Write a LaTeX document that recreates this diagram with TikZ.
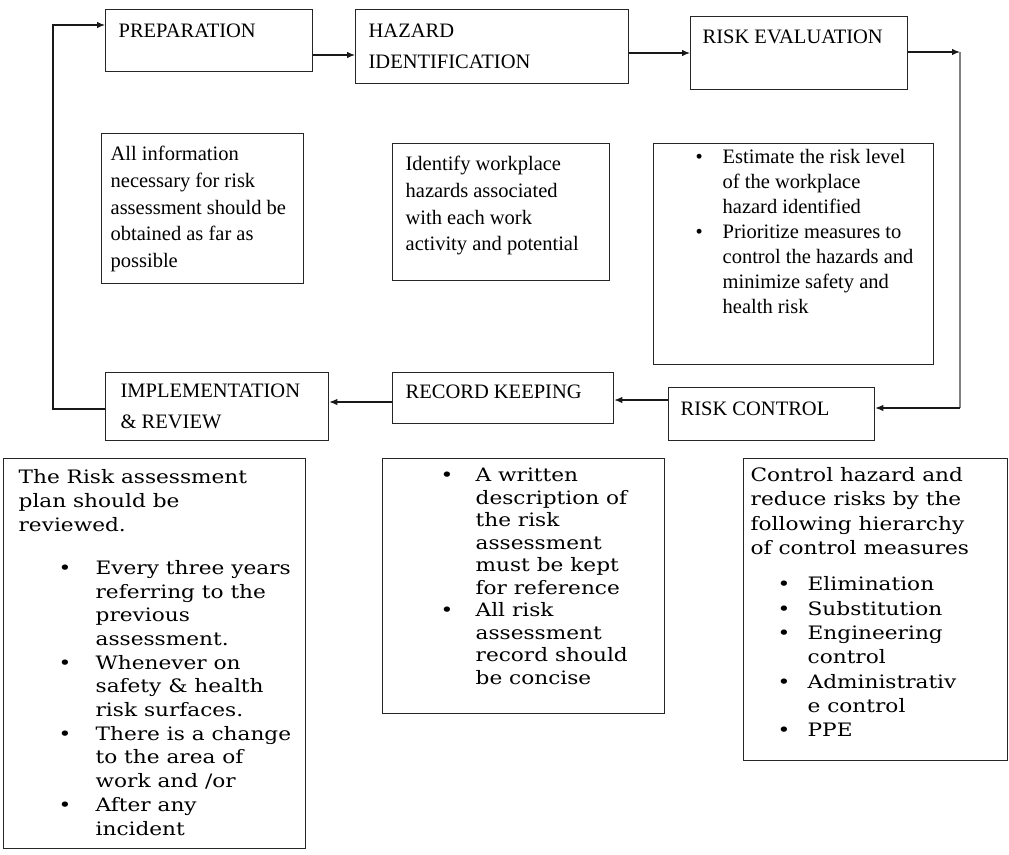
\documentclass[tikz,border=0pt]{standalone}
\usepackage{fontspec}
\setmainfont{Liberation Serif}
\newfontfamily\wfont[FakeStretch=1.17]{DejaVu Serif}
\usetikzlibrary{arrows.meta}
% #1 width, #2 height, #3 left offset, #4 first baseline, #5 content
\newcommand\bx[5]{\parbox[c][#2pt][t]{#1pt}{\vspace*{\dimexpr #4pt-\ht\strutbox\relax}\leftskip=#3pt\relax\rightskip=0pt plus 1fil\relax\parindent=0pt #5\par}}
% #1 bullet offset, #2 text offset, #3 lines
\newcommand\bl[3]{{\leftskip=#2pt\relax\noindent\llap{\makebox[\dimexpr#2pt-#1pt\relax][l]{\textbullet}}\strut #3\par}}
\begin{document}
\begin{tikzpicture}[x=1pt,y=-1pt,
  box/.style={draw=black!85, line width=1.3pt, inner sep=0pt, anchor=north west},
  top/.style={font=\fontsize{20.5}{26.7}\selectfont},
  low/.style={font=\wfont\fontsize{18.5}{23.7}\selectfont},
  arr/.style={line width=1.2pt, draw=black!90, -{Latex[length=8pt,width=6.5pt]}},
  ]
\useasboundingbox (0,0) rectangle (1009,854);
% process steps
\node[box,top] (prep) at (105,9) {\bx{207}{62}{13}{28}{\strut PREPARATION}};
\node[box,top,font=\fontsize{20.5}{31}\selectfont] (haz) at (355,9) {\bx{273}{74}{13}{28}{\strut HAZARD\\IDENTIFICATION}};
\node[box,top] (eval) at (690,16) {\bx{217}{73}{12}{27}{\strut RISK EVALUATION}};
\node[box,top] (ctrl) at (668,387) {\bx{206}{53}{12}{28}{\strut RISK CONTROL}};
\node[box,top] (recbox) at (392,372) {\bx{221}{51}{13}{26}{\strut RECORD KEEPING}};
\node[box,top,font=\fontsize{20.5}{31}\selectfont] (impl) at (105,372) {\bx{223}{68}{15}{25}{\strut IMPLEMENTATION\\\& REVIEW}};
% descriptions (top)
\node[box,top] (info) at (101,133) {\bx{202}{150}{9}{27}{\strut All information\\necessary for risk\\assessment should be\\obtained as far as\\possible}};
\node[box,top] (ident) at (392,143) {\bx{217}{137}{13}{27}{\strut Identify workplace\\hazards associated\\with each work\\activity and potential}};
\node[box,top,font=\fontsize{20.5}{25}\selectfont] (evtx) at (653,143) {\bx{280}{221}{0}{20}{\bl{42}{69}{Estimate the risk level\\of the workplace\\hazard identified}\bl{42}{69}{Prioritize measures to\\control the hazards and\\minimize safety and\\health risk}}};
% descriptions (bottom)
\node[box,low] (revtx) at (3,458) {\bx{302}{390}{15}{25}{\strut The Risk assessment\\plan should be\\reviewed.\par\vspace{19.6pt}\bl{55}{92}{Every three years\\referring to the\\previous\\assessment.}\bl{55}{92}{Whenever on\\safety \& health\\risk surfaces.}\bl{55}{92}{There is a change\\to the area of\\work and /or}\bl{55}{92}{After any\\incident}}};
\node[box,low,font=\wfont\fontsize{18.5}{22.5}\selectfont] (rectx) at (382,458) {\bx{282}{255}{0}{23}{\bl{58}{93}{A written\\description of\\the risk\\assessment\\must be kept\\for reference}\bl{58}{93}{All risk\\assessment\\record should\\be concise}}};
\node[box,low,font=\wfont\fontsize{18.5}{24.3}\selectfont] (ctltx) at (743,458) {\bx{264}{302}{7}{23}{\strut Control hazard and\\reduce risks by the\\following hierarchy\\of control measures\par\vspace{12pt}\bl{34}{64}{Elimination}\bl{34}{64}{Substitution}\bl{34}{64}{Engineering\\control}\bl{34}{64}{Administrativ\\e control}\bl{34}{64}{PPE}}};
% connectors
\coordinate (c1) at (960,52);
\coordinate (c2) at (960,408);
\coordinate (c3) at (53,409);
\coordinate (c4) at (53,25);
\draw[arr] (prep.east |- 0,55) -- (haz.west |- 0,55);
\draw[arr] (haz.east |- 0,53) -- (eval.west |- 0,53);
\draw[arr] (eval.east |- c1) -- (c1);
\draw[line width=1.2pt, black!50] (c1) -- (c2);
\draw[arr] (c2) -- (ctrl.east |- c2);
\draw[arr] (ctrl.west |- 0,400) -- (recbox.east |- 0,400);
\draw[arr] (recbox.west |- 0,402) -- (impl.east |- 0,402);
\draw[arr] (impl.west |- c3) -- (c3) -- (c4) -- (prep.west |- c4);
\end{tikzpicture}
\end{document}
